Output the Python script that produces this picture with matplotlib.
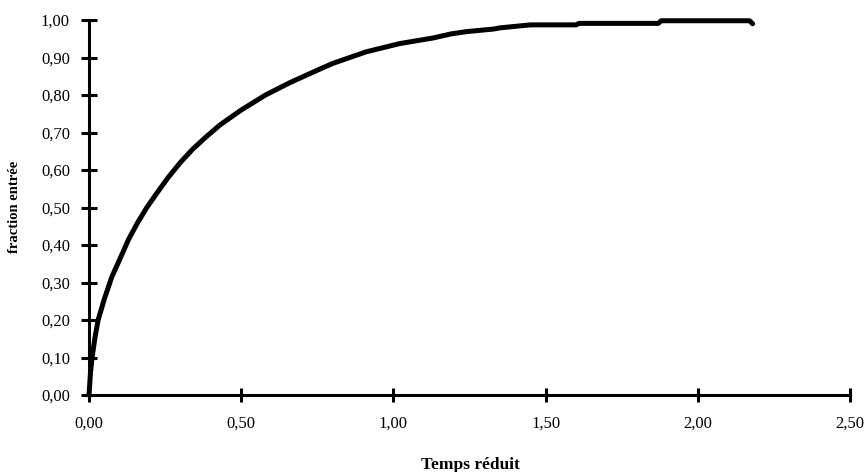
#!/usr/bin/env python3
"""Fraction entrée vs temps réduit (scanned Excel-style curve)."""
import matplotlib
matplotlib.use("Agg")
import matplotlib.pyplot as plt
from matplotlib.ticker import FuncFormatter

# values
temps_reduit = [0.0, 0.005, 0.01, 0.02, 0.03, 0.05, 0.075, 0.10, 0.13, 0.16,
                0.19, 0.22, 0.26, 0.30, 0.34, 0.38, 0.43, 0.50, 0.58, 0.66,
                0.75, 0.80, 0.91, 1.02, 1.13, 1.19, 1.24, 1.33, 1.35, 1.45,
                1.60, 1.61, 1.87, 1.88, 2.17, 2.18]
fraction_entree = [0.0, 0.06, 0.10, 0.155, 0.20, 0.255, 0.315, 0.36, 0.415, 0.46,
                   0.50, 0.535, 0.58, 0.62, 0.655, 0.685, 0.72, 0.76, 0.80, 0.833,
                   0.866, 0.884, 0.915, 0.937, 0.952, 0.963, 0.969, 0.976, 0.979, 0.987,
                   0.987, 0.991, 0.991, 0.998, 0.998, 0.99]
x_ticks = [0.0, 0.5, 1.0, 1.5, 2.0, 2.5]
y_ticks = [0.0, 0.1, 0.2, 0.3, 0.4, 0.5, 0.6, 0.7, 0.8, 0.9, 1.0]

plt.rcParams["font.family"] = ["Liberation Serif", "DejaVu Serif"]

fig = plt.figure(figsize=(8.64, 4.72), dpi=100)
ax = fig.add_axes([89 / 864, 1 - 395 / 472, (850 - 89) / 864, (395 - 20) / 472])

ax.plot(temps_reduit, fraction_entree, color="black", linewidth=3.6,
        solid_joinstyle="round", solid_capstyle="round", clip_on=False)

ax.set_xlim(0, 2.5)
ax.set_ylim(0, 1.0)
ax.set_xticks(x_ticks)
ax.set_yticks(y_ticks)
comma = FuncFormatter(lambda v, _: f"{v:.2f}".replace(".", ","))
ax.xaxis.set_major_formatter(comma)
ax.yaxis.set_major_formatter(comma)

for side in ("top", "right"):
    ax.spines[side].set_visible(False)
for side in ("left", "bottom"):
    ax.spines[side].set_linewidth(2.2)
ax.tick_params(axis="y", direction="inout", length=11.5, width=2.2, pad=8, labelsize=12)
ax.tick_params(axis="x", direction="inout", length=10, width=2.2, pad=10, labelsize=12)

fig.text(470 / 864, 3 / 472, "Temps réduit", ha="center", va="baseline",
         fontsize=12.5, fontweight="bold")
fig.text(15 / 864, 1 - 207 / 472, "fraction entrée", ha="center", va="center",
         rotation=90, fontsize=10.5, fontweight="bold")

fig.savefig("out.png", dpi=100)
